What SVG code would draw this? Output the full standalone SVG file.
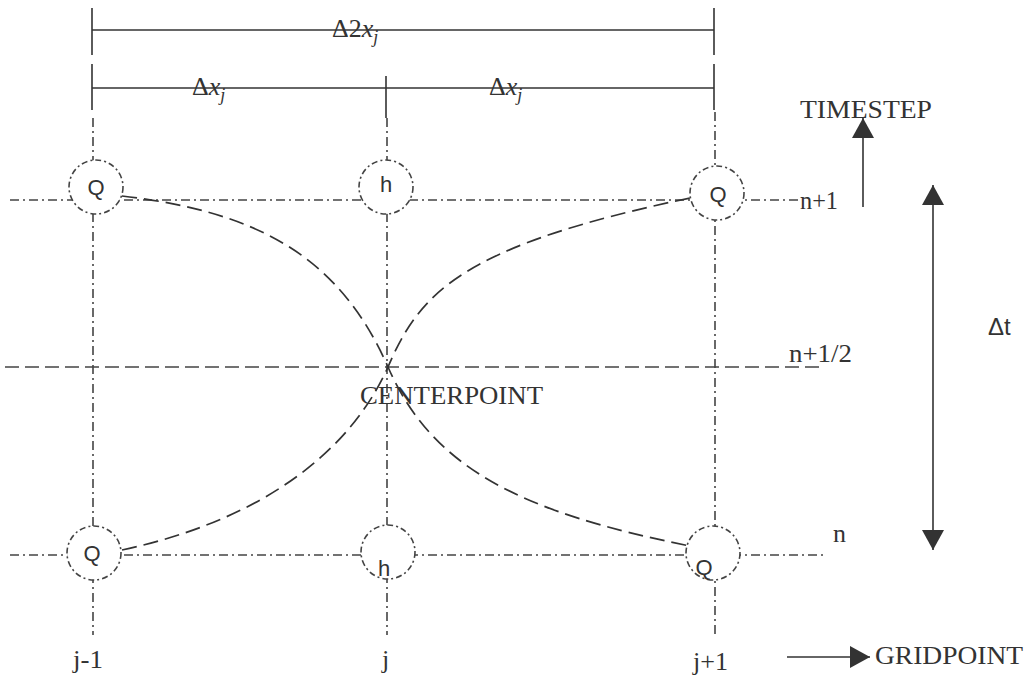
<svg xmlns="http://www.w3.org/2000/svg" width="1036" height="679" viewBox="0 0 1036 679">
<defs>
<style>
.bg{fill:#fff}
.solid{stroke:#333;stroke-width:1.6;fill:none}
.grid{stroke:#444;stroke-width:1.6;fill:none;stroke-dasharray:9 4 2 4}
.half{stroke:#444;stroke-width:1.6;fill:none;stroke-dasharray:14 6}
.curve{stroke:#333;stroke-width:1.7;fill:none;stroke-dasharray:15 7}
.node{fill:#fff;stroke:#444;stroke-width:1.6;stroke-dasharray:6 3 2 3}
.lbl{font-family:"Liberation Sans",Arial,sans-serif;font-size:22px;fill:#333;text-anchor:middle}
.serif{font-family:"Liberation Serif","Times New Roman",serif;font-size:26px;fill:#333}
.ital{font-style:italic}
</style>
<marker id="ah" viewBox="0 0 20 22" refX="20" refY="11" markerWidth="20" markerHeight="22" markerUnits="userSpaceOnUse" orient="auto-start-reverse">
<path d="M0,0 L20,11 L0,22 Z" fill="#333"/>
</marker>
</defs>
<rect class="bg" x="0" y="0" width="1036" height="679"/>

<g id="dimensions">
<line class="solid" x1="92" y1="30" x2="714" y2="30"/>
<line class="solid" x1="92" y1="8" x2="92" y2="55"/>
<line class="solid" x1="714" y1="8" x2="714" y2="55"/>
<line class="solid" x1="92" y1="88" x2="714" y2="88"/>
<line class="solid" x1="92" y1="64" x2="92" y2="110"/>
<line class="solid" x1="714" y1="64" x2="714" y2="110"/>
<line class="solid" x1="386" y1="76" x2="386" y2="118"/>
<text class="serif" x="332" y="37">Δ2<tspan class="ital">x</tspan><tspan class="ital" font-size="18" dy="6">j</tspan></text>
<text class="serif" x="192" y="95">Δ<tspan class="ital">x</tspan><tspan class="ital" font-size="18" dy="6">j</tspan></text>
<text class="serif" x="489" y="95">Δ<tspan class="ital">x</tspan><tspan class="ital" font-size="18" dy="6">j</tspan></text>
</g>

<g id="connectors">
<line class="grid" x1="10" y1="200" x2="800" y2="200"/>
<line class="half" x1="5" y1="367" x2="825" y2="367"/>
<line class="grid" x1="10" y1="555" x2="827" y2="555"/>
<line class="grid" x1="93" y1="118" x2="93" y2="635"/>
<line class="grid" x1="387" y1="118" x2="387" y2="635"/>
<line class="grid" x1="715" y1="112" x2="715" y2="638"/>
<path class="curve" d="M122,196 C260,212 340,258 388,367 C432,468 520,512 690,546"/>
<path class="curve" d="M122,550 C262,520 350,452 388,367 C420,292 462,246 690,198"/>
<line class="solid" x1="863" y1="207" x2="863" y2="118" marker-end="url(#ah)"/>
<line class="solid" x1="933" y1="185" x2="933" y2="550" marker-start="url(#ah)" marker-end="url(#ah)"/>
<line class="solid" x1="787" y1="657" x2="870" y2="657" marker-end="url(#ah)"/>
</g>

<g id="node-q-top-left"><circle class="node" cx="96" cy="187" r="27"/><text class="lbl" x="96" y="195">Q</text></g>
<g id="node-h-top"><circle class="node" cx="386" cy="187" r="27"/><text class="lbl" x="386" y="192">h</text></g>
<g id="node-q-top-right"><circle class="node" cx="717" cy="193" r="27"/><text class="lbl" x="718" y="202">Q</text></g>
<g id="node-q-bottom-left"><circle class="node" cx="94" cy="553" r="27"/><text class="lbl" x="92" y="561">Q</text></g>
<g id="node-h-bottom"><circle class="node" cx="388" cy="552" r="27"/><text class="lbl" x="384" y="576">h</text></g>
<g id="node-q-bottom-right"><circle class="node" cx="713" cy="553" r="27"/><text class="lbl" x="704" y="575">Q</text></g>

<g id="labels">
<text class="serif" x="800" y="209" textLength="38" lengthAdjust="spacingAndGlyphs">n+1</text>
<text class="serif" x="789" y="362" textLength="63" lengthAdjust="spacingAndGlyphs">n+1/2</text>
<text class="serif" x="833" y="542">n</text>
<text class="serif" x="360" y="404" textLength="183" lengthAdjust="spacingAndGlyphs">CENTERPOINT</text>
<text class="serif" x="800" y="118" textLength="132" lengthAdjust="spacingAndGlyphs">TIMESTEP</text>
<text class="serif" x="875" y="664" textLength="148" lengthAdjust="spacingAndGlyphs">GRIDPOINT</text>
<text class="serif" x="73" y="668" textLength="30" lengthAdjust="spacingAndGlyphs">j-1</text>
<text class="serif" x="382" y="668">j</text>
<text class="serif" x="693" y="670" textLength="35" lengthAdjust="spacingAndGlyphs">j+1</text>
<text font-family="Liberation Sans, Arial, sans-serif" font-size="24" fill="#333" x="988" y="335">Δt</text>
</g>
</svg>
